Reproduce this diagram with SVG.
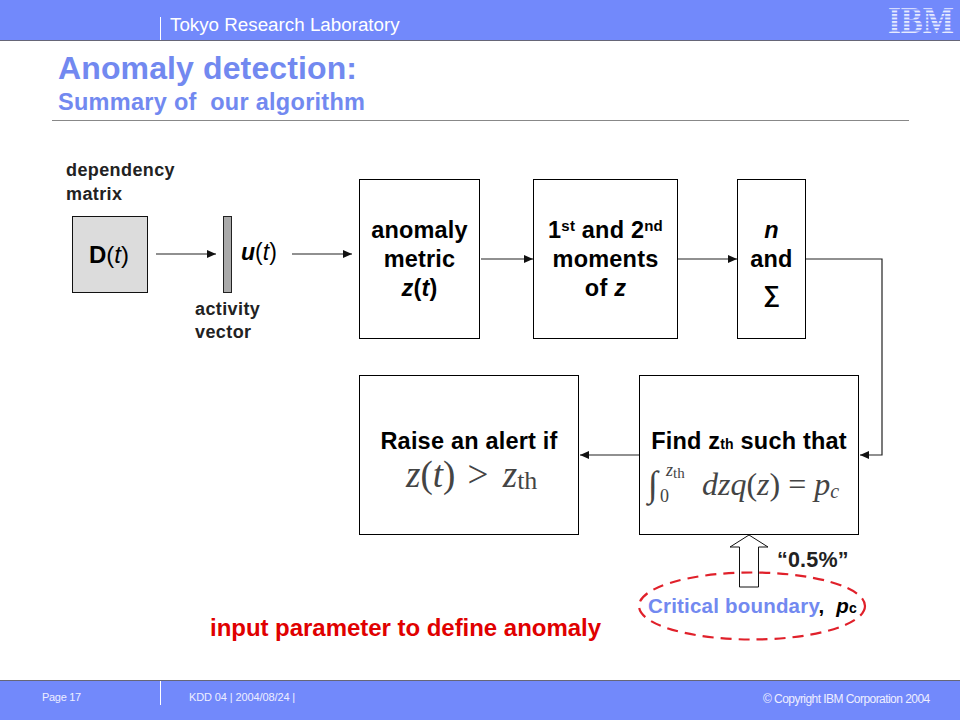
<svg xmlns="http://www.w3.org/2000/svg" width="960" height="720" viewBox="0 0 960 720">
<style>
text{font-family:"Liberation Sans",Arial,sans-serif;fill:#000}
.b{font-weight:bold}
.box{fill:#fff;stroke:#000;stroke-width:1}
.big{font-size:23.500px;font-weight:bold;text-anchor:middle;letter-spacing:.2px}
.lab{font-size:18px;font-weight:bold;letter-spacing:.4px;fill:#222}
.math{font-family:"Liberation Serif","Times New Roman",serif;fill:#444}
.i{font-style:italic}
.foot{font-size:11px;fill:#eef;letter-spacing:-.2px}
.c{fill:none;stroke:#222;stroke-width:1.2}
</style>
<defs>
<marker id="ah" markerWidth="10" markerHeight="8" refX="9" refY="4" orient="auto" markerUnits="userSpaceOnUse"><path d="M0,0L9,4L0,8Z" fill="#111"/></marker>
<pattern id="stripes" patternUnits="userSpaceOnUse" x="0" y="7" width="8" height="3.500"><rect width="8" height="2" fill="#e6eaff"/></pattern>
</defs>
<g id="header">
<rect width="960" height="40" fill="#7289fb"/>
<rect y="40" width="960" height="1" fill="#667"/>
<rect x="160" y="17" width="1" height="23" fill="#fff"/>
<text x="170" y="31" font-size="18.800" style="fill:#fff">Tokyo Research Laboratory</text>
<text x="921" y="33" font-size="38" font-weight="bold" text-anchor="middle" textLength="66" lengthAdjust="spacingAndGlyphs" style="font-family:'Liberation Serif',serif;fill:url(#stripes)">IBM</text>
</g>
<g id="title">
<text x="58" y="79" font-size="32" class="b" textLength="299" style="fill:#7289f0">Anomaly detection:</text>
<text x="58" y="110" font-size="23.500" class="b" textLength="307" style="fill:#7289f0" xml:space="preserve">Summary of  our algorithm</text>
<rect x="52" y="120" width="857" height="1" fill="#888"/>
</g>
<g id="connectors">
<path class="c" marker-end="url(#ah)" d="M156,254H216"/>
<path class="c" marker-end="url(#ah)" d="M292,254H352"/>
<path class="c" marker-end="url(#ah)" d="M481,259H533"/>
<path class="c" marker-end="url(#ah)" d="M678,259H737"/>
<path class="c" marker-end="url(#ah)" d="M806,259H882V455H860"/>
<path class="c" marker-end="url(#ah)" d="M639,455H580"/>
</g>
<g id="node-dt">
<text x="66" y="176" class="lab">dependency</text>
<text x="66" y="200" class="lab">matrix</text>
<rect x="72.500" y="216.500" width="75" height="76" fill="#dcdcdc" stroke="#111"/>
<text x="89" y="263" font-size="24"><tspan class="b">D</tspan><tspan>(</tspan><tspan class="i">t</tspan><tspan>)</tspan></text>
</g>
<g id="node-ut">
<rect x="223.500" y="216.500" width="8" height="76" fill="#aaa" stroke="#222"/>
<text x="241" y="260" font-size="23"><tspan class="b i">u</tspan><tspan>(</tspan><tspan class="i">t</tspan><tspan>)</tspan></text>
<text x="195" y="315" class="lab">activity</text>
<text x="195" y="338" class="lab">vector</text>
</g>
<g id="node-metric">
<rect class="box" x="359.500" y="179.500" width="120" height="159"/>
<text x="419.500" y="238" class="big">anomaly</text>
<text x="419.500" y="267" class="big">metric</text>
<text x="419.500" y="296" class="big"><tspan class="i">z</tspan>(<tspan class="i">t</tspan>)</text>
</g>
<g id="node-moments">
<rect class="box" x="533.500" y="179.500" width="144" height="159"/>
<text x="605.500" y="238" class="big">1<tspan font-size="15" dy="-7">st</tspan><tspan dy="7"> and 2</tspan><tspan font-size="15" dy="-7">nd</tspan></text>
<text x="605.500" y="267" class="big">moments</text>
<text x="605.500" y="296" class="big">of <tspan class="i">z</tspan></text>
</g>
<g id="node-sigma">
<rect class="box" x="737.500" y="179.500" width="68" height="159"/>
<text x="771.500" y="238" class="big i">n</text>
<text x="771.500" y="267" class="big">and</text>
<text x="771.500" y="302" class="big">∑</text>
</g>
<g id="node-alert">
<rect class="box" x="359.500" y="375.500" width="219" height="159"/>
<text x="469" y="449" class="big">Raise an alert if</text>
<text x="406" y="487" font-size="37" class="math" xml:space="preserve"><tspan class="i">z</tspan>(<tspan class="i">t</tspan>) <tspan dx="3">&gt;</tspan> <tspan class="i" dx="5">z</tspan><tspan font-size="26" dy="2">th</tspan></text>
</g>
<g id="node-find">
<rect class="box" x="639.500" y="375.500" width="219" height="159"/>
<text x="749" y="449" class="big">Find z<tspan font-size="14">th</tspan> such that</text>
<text x="648" y="496" font-size="36" class="math">∫</text>
<text x="666" y="476" font-size="18" class="math i">z<tspan style="font-style:normal" font-size="15" dy="2">th</tspan></text>
<text x="660" y="502" font-size="18" class="math">0</text>
<text x="702" y="495" font-size="32" class="math"><tspan class="i">dzq</tspan>(<tspan class="i">z</tspan>) = <tspan class="i">p</tspan><tspan class="i" font-size="20" dy="3">c</tspan></text>
</g>
<g id="node-boundary">
<path d="M749,535L768,547H758.500V587H739.500V547H730Z" fill="#fff" stroke="#111" stroke-width="1"/>
<text x="777" y="567" class="b" style="letter-spacing:.2px;fill:#222" font-size="21.500">“0.5%”</text>
<ellipse cx="752" cy="606" rx="113" ry="33.500" fill="none" stroke="#e0202a" stroke-width="2.200" stroke-dasharray="11 7"/>
<text x="648" y="613" font-size="20.500" class="b" style="fill:#7289f0;letter-spacing:.2px" xml:space="preserve">Critical boundary<tspan style="fill:#000">,  </tspan><tspan class="i" style="fill:#000">p</tspan><tspan font-size="14" style="fill:#000">c</tspan></text>
<text x="210" y="636" font-size="24" class="b" textLength="391" style="fill:#e00000">input parameter to define anomaly</text>
</g>
<g id="footer">
<rect y="680" width="960" height="40" fill="#7289fb"/>
<rect y="680" width="960" height="1" fill="#667"/>
<rect x="160" y="681" width="1" height="24" fill="#fff"/>
<text x="42" y="701" class="foot" textLength="39">Page 17</text>
<text x="189" y="701" class="foot" textLength="106">KDD 04 | 2004/08/24 |</text>
<text x="763" y="703" class="foot" textLength="167" style="font-size:12px">© Copyright IBM Corporation 2004</text>
</g>
</svg>
